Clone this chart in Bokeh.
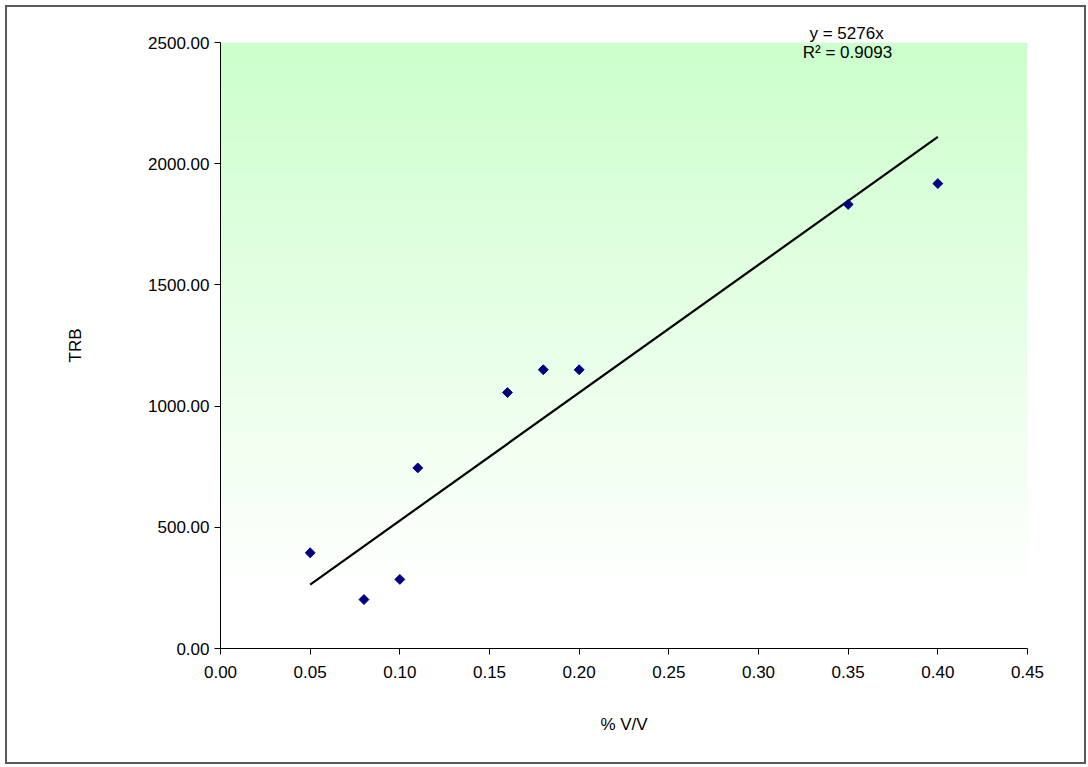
import numpy as np
from bokeh.plotting import figure
from bokeh.models import Range1d, Label, Title, FixedTicker, NumeralTickFormatter
from bokeh.embed import file_html
from bokeh.resources import INLINE

# ---- data ----
conc = [0.05, 0.08, 0.10, 0.11, 0.16, 0.18, 0.20, 0.35, 0.40]
trb = [395, 202, 285, 745, 1056, 1150, 1150, 1832, 1918]
slope = 5276
r2 = 0.9093
x_ticks = [0.00, 0.05, 0.10, 0.15, 0.20, 0.25, 0.30, 0.35, 0.40, 0.45]
y_ticks = [0, 500, 1000, 1500, 2000, 2500]

FONT = "Liberation Sans"

p = figure(
    frame_width=807, frame_height=606,
    min_border_left=213, min_border_right=57, min_border_top=35, min_border_bottom=114,
    x_range=Range1d(0, 0.45), y_range=Range1d(0, 2500),
    output_backend="svg", toolbar_location=None,
    background_fill_color="white", border_fill_color="white",
)
p.styles = {"border": "2px solid #5a5a5a", "margin-left": "5px", "margin-top": "5px"}
p.outline_line_color = None
p.xgrid.visible = False
p.ygrid.visible = False

# gradient background: white at bottom up to ~243, then to #CCFFCC at top
n = 300
ys = np.linspace(0, 2500, n)
t = np.clip((ys - 243) / (2500 - 243), 0, 1)
r = (255 - (255 - 204) * t).astype(np.uint32)
g = np.full(n, 255, dtype=np.uint32)
b = (255 - (255 - 204) * t).astype(np.uint32)
a = np.full(n, 255, dtype=np.uint32)
img = (a << 24) | (b << 16) | (g << 8) | r
img = img.reshape(n, 1)
p.image_rgba(image=[img], x=0, y=0, dw=0.45, dh=2500, level="image")

# trend line
tx = [min(conc), max(conc)]
ty = [slope * v for v in tx]
p.line(tx, ty, line_color="black", line_width=2.2)

# points
p.scatter(conc, trb, marker="square", angle=np.pi / 4, size=7,
          fill_color="#000080", line_color="#000080")

# axes
for ax in (p.xaxis[0], p.yaxis[0]):
    ax.axis_line_color = "#000000"
    ax.axis_line_width = 1
    ax.major_tick_line_color = "#000000"
    ax.major_tick_out = 6
    ax.major_tick_in = 0
    ax.minor_tick_line_color = None
    ax.major_label_text_font = FONT
    ax.major_label_text_font_size = "17px"
    ax.major_label_text_color = "#000000"
    ax.axis_label_text_font = FONT
    ax.axis_label_text_font_size = "17px"
    ax.axis_label_text_font_style = "normal"
    ax.axis_label_text_color = "#000000"

p.xaxis.ticker = FixedTicker(ticks=x_ticks)
p.yaxis.ticker = FixedTicker(ticks=y_ticks)
p.xaxis.formatter = NumeralTickFormatter(format="0.00")
p.yaxis.formatter = NumeralTickFormatter(format="0.00")
p.xaxis.major_label_standoff = 11
p.yaxis.major_label_standoff = 5
p.xaxis.axis_label = "% V/V"
p.yaxis.axis_label = "TRB"
p.xaxis.axis_label_standoff = 34
p.yaxis.axis_label_standoff = 60

# trendline equation
p.add_layout(Title(text=f"y = {slope}x", align="left", offset=589, standoff=0,
                   text_font=FONT, text_font_size="17px", text_font_style="normal",
                   text_color="#000000"), "above")
p.add_layout(Label(x=0.3496, y=2458, text=f"R\u00b2 = {r2}", text_align="center",
                   text_baseline="middle", text_font=FONT, text_font_size="17px",
                   text_color="#000000"))

open("out.html", "w").write(file_html(p, INLINE))
